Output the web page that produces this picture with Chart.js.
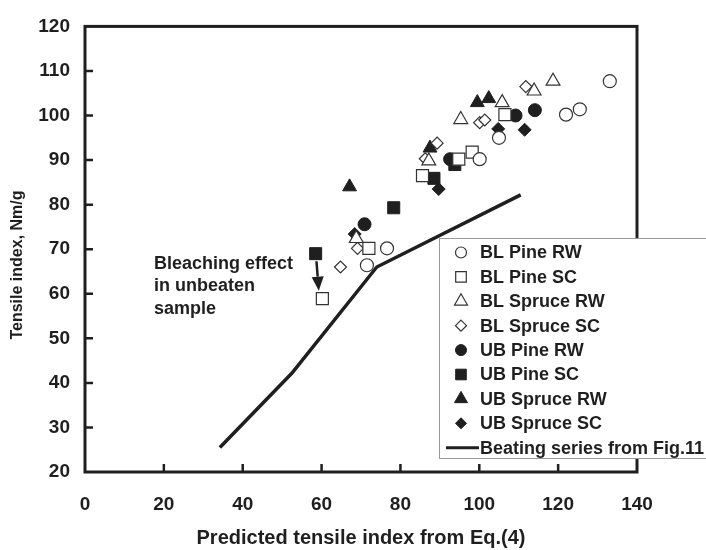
<!DOCTYPE html>
<html>
<head>
<meta charset="utf-8">
<script src="https://cdn.jsdelivr.net/npm/chart.js@4"></script>
<style>
  html, body { margin: 0; padding: 0; background: #fff; }
</style>
</head>
<body>
<canvas id="tensileChart" width="706" height="550"></canvas>
<script>
// Measured points [predicted, measured]
const blPineRW = [[76.6, 70.2], [71.5, 66.4], [100.1, 90.2], [105.0, 95.0], [122.0, 100.2], [125.5, 101.4], [133.1, 107.7]];
const blPineSC = [[60.2, 58.9], [72.0, 70.2], [85.6, 86.5], [94.8, 90.2], [98.2, 91.8], [106.5, 100.2]];
const blSpruceRW = [[68.8, 72.4], [87.2, 89.8], [95.3, 99.1], [105.8, 102.9], [113.9, 105.5], [118.7, 107.7]];
const blSpruceSC = [[64.8, 66.0], [69.1, 70.2], [86.3, 90.3], [89.3, 93.8], [100.1, 98.4], [101.4, 99.0], [111.8, 106.5]];
const ubPineRW = [[70.9, 75.6], [92.6, 90.2], [109.2, 100.0], [114.1, 101.2]];
const ubPineSC = [[58.5, 69.0], [78.3, 79.3], [88.5, 85.9], [93.8, 89.0]];
const ubSpruceRW = [[67.1, 84.0], [87.5, 92.7], [99.5, 102.9], [102.4, 103.8]];
const ubSpruceSC = [[68.4, 73.4], [89.7, 83.5], [104.8, 97.0], [111.5, 96.8]];
// Beating series from Fig.11
const beatingSeries = [[34.2, 25.5], [52.5, 42.2], [74.0, 66.0], [110.5, 82.2]];

const xTicks = [0, 20, 40, 60, 80, 100, 120, 140];
const yTicks = [20, 30, 40, 50, 60, 70, 80, 90, 100, 110, 120];

const seriesLabels = ['BL Pine RW', 'BL Pine SC', 'BL Spruce RW', 'BL Spruce SC',
                      'UB Pine RW', 'UB Pine SC', 'UB Spruce RW', 'UB Spruce SC'];
const lineLabel = 'Beating series from Fig.11';
const noteLines = ['Bleaching effect', 'in unbeaten', 'sample'];
// arrow from unbeaten to bleached sample
const arrowFrom = [58.7, 67.3];
const arrowTo = [59.3, 60.7];

const INK = '#1f1f1f';
const FAMILY = "'Liberation Sans', Arial, sans-serif";
const TEXT_FONT = 'bold 18px ' + FAMILY;

const toXY = arr => arr.map(p => ({ x: p[0], y: p[1] }));

function openSet(label, data, style, r) {
    return {
        label: label, data: toXY(data), pointStyle: style, pointRadius: r,
        backgroundColor: '#ffffff', borderColor: '#333333', borderWidth: 1.2
    };
}
function filledSet(label, data, style, r) {
    return {
        label: label, data: toXY(data), pointStyle: style, pointRadius: r,
        backgroundColor: INK, borderColor: INK, borderWidth: 1
    };
}

const datasets = [
    openSet(seriesLabels[0], blPineRW, 'circle', 6.5),
    openSet(seriesLabels[1], blPineSC, 'rect', 8.5),
    openSet(seriesLabels[2], blSpruceRW, 'triangle', 8),
    openSet(seriesLabels[3], blSpruceSC, 'rectRot', 6),
    filledSet(seriesLabels[4], ubPineRW, 'circle', 6.5),
    filledSet(seriesLabels[5], ubPineSC, 'rect', 8.5),
    filledSet(seriesLabels[6], ubSpruceRW, 'triangle', 8),
    filledSet(seriesLabels[7], ubSpruceSC, 'rectRot', 6.5),
    {
        type: 'line', label: lineLabel, data: toXY(beatingSeries),
        borderColor: INK, borderWidth: 3.5, pointRadius: 0, fill: false, tension: 0
    }
];

function marker(ctx, style, r, x, y, fill, stroke, lw) {
    ctx.save();
    ctx.fillStyle = fill;
    ctx.strokeStyle = stroke;
    ctx.lineWidth = lw;
    ctx.beginPath();
    if (style === 'circle') {
        ctx.arc(x, y, r, 0, Math.PI * 2);
    } else if (style === 'rect') {
        const s = r * Math.SQRT1_2;
        ctx.rect(x - s, y - s, 2 * s, 2 * s);
    } else if (style === 'triangle') {
        for (let i = 0; i < 3; i++) {
            const a = i * 2 * Math.PI / 3;
            const px = x + Math.sin(a) * r, py = y - Math.cos(a) * r;
            if (i === 0) ctx.moveTo(px, py); else ctx.lineTo(px, py);
        }
        ctx.closePath();
    } else {
        ctx.moveTo(x, y - r); ctx.lineTo(x + r, y); ctx.lineTo(x, y + r); ctx.lineTo(x - r, y);
        ctx.closePath();
    }
    ctx.fill();
    ctx.stroke();
    ctx.restore();
}

// Frame, inward ticks, legend box, note and axis titles
const decorPlugin = {
    id: 'decor',
    afterDatasetsDraw(chart) {
        const ctx = chart.ctx;
        const a = chart.chartArea;
        const xs = chart.scales.x, ys = chart.scales.y;

        // frame
        ctx.save();
        ctx.strokeStyle = INK;
        ctx.lineWidth = 3;
        ctx.strokeRect(a.left, a.top, a.right - a.left, a.bottom - a.top);
        ctx.lineWidth = 2.5;
        ctx.beginPath();
        xTicks.slice(1, -1).forEach(v => {
            const px = xs.getPixelForValue(v);
            ctx.moveTo(px, a.bottom); ctx.lineTo(px, a.bottom - 8);
        });
        yTicks.slice(1, -1).forEach(v => {
            const py = ys.getPixelForValue(v);
            ctx.moveTo(a.left, py); ctx.lineTo(a.left + 8, py);
        });
        ctx.stroke();
        ctx.restore();

        // arrow
        ctx.save();
        const x0 = xs.getPixelForValue(arrowFrom[0]), y0 = ys.getPixelForValue(arrowFrom[1]);
        const x1 = xs.getPixelForValue(arrowTo[0]), y1 = ys.getPixelForValue(arrowTo[1]);
        const ang = Math.atan2(y1 - y0, x1 - x0);
        const hl = 14, hw = 6;
        const bx = x1 - Math.cos(ang) * hl, by = y1 - Math.sin(ang) * hl;
        ctx.strokeStyle = INK; ctx.fillStyle = INK; ctx.lineWidth = 2.5;
        ctx.beginPath(); ctx.moveTo(x0, y0); ctx.lineTo(bx, by); ctx.stroke();
        ctx.beginPath();
        ctx.moveTo(x1, y1);
        ctx.lineTo(bx + Math.sin(ang) * hw, by - Math.cos(ang) * hw);
        ctx.lineTo(bx - Math.sin(ang) * hw, by + Math.cos(ang) * hw);
        ctx.closePath(); ctx.fill();
        ctx.restore();

        // note text
        ctx.save();
        ctx.font = TEXT_FONT;
        ctx.fillStyle = INK;
        ctx.textAlign = 'left';
        ctx.textBaseline = 'middle';
        noteLines.forEach((t, i) => ctx.fillText(t, 154, 264 + i * 22.5));
        ctx.restore();

        // legend
        ctx.save();
        ctx.fillStyle = '#ffffff';
        ctx.fillRect(439, 238, 267, 220);
        ctx.strokeStyle = '#9a9a9a';
        ctx.lineWidth = 1;
        ctx.strokeRect(439.5, 238.5, 267, 220);
        ctx.font = TEXT_FONT;
        ctx.textAlign = 'left';
        ctx.textBaseline = 'middle';
        const legendSizes = { circle: 5.5, rect: 7.5, triangle: 7.5, rectRot: 5.5 };
        datasets.forEach((ds, i) => {
            const y = 252.5 + i * 24.4;
            if (ds.type === 'line') {
                ctx.strokeStyle = INK;
                ctx.lineWidth = 3;
                ctx.beginPath(); ctx.moveTo(446, y); ctx.lineTo(479, y); ctx.stroke();
            } else {
                marker(ctx, ds.pointStyle, legendSizes[ds.pointStyle], 461, y,
                       ds.backgroundColor, ds.borderColor, ds.borderWidth);
            }
            ctx.fillStyle = INK;
            ctx.fillText(ds.label, 480, y + 1);
        });
        ctx.restore();

        // axis titles
        ctx.save();
        ctx.fillStyle = INK;
        ctx.textAlign = 'center';
        ctx.textBaseline = 'middle';
        ctx.font = 'bold 20px ' + FAMILY;
        ctx.fillText('Predicted tensile index from Eq.(4)', (a.left + a.right) / 2, 538);
        ctx.font = 'bold 16px ' + FAMILY;
        ctx.translate(18, 265);
        ctx.rotate(-Math.PI / 2);
        ctx.fillText('Tensile index, Nm/g', 0, 0);
        ctx.restore();
    }
};

const tickFont = { family: FAMILY, size: 19, weight: 'bold' };

const config = {
    type: 'scatter',
    data: { datasets: datasets },
    options: {
        responsive: false,
        animation: false,
        events: [],
        layout: { padding: { left: 0, right: 69, top: 13, bottom: 0 } },
        plugins: {
            legend: { display: false },
            title: { display: false },
            tooltip: { enabled: false }
        },
        scales: {
            x: {
                type: 'linear', min: 0, max: 140,
                afterBuildTicks: s => { s.ticks = xTicks.map(v => ({ value: v })); },
                afterFit: s => { s.height = 78; },
                grid: { display: false, drawTicks: false },
                border: { display: false },
                ticks: { color: INK, font: tickFont, padding: 21, maxRotation: 0 }
            },
            y: {
                type: 'linear', min: 20, max: 120,
                afterBuildTicks: s => { s.ticks = yTicks.map(v => ({ value: v })); },
                afterFit: s => { s.width = 85; },
                grid: { display: false, drawTicks: false },
                border: { display: false },
                ticks: { color: INK, font: tickFont, padding: 15 }
            }
        }
    },
    plugins: [decorPlugin]
};

const chartContext = document.getElementById('tensileChart').getContext('2d');
const tensileChart = new Chart(chartContext, config);
</script>
</body>
</html>
